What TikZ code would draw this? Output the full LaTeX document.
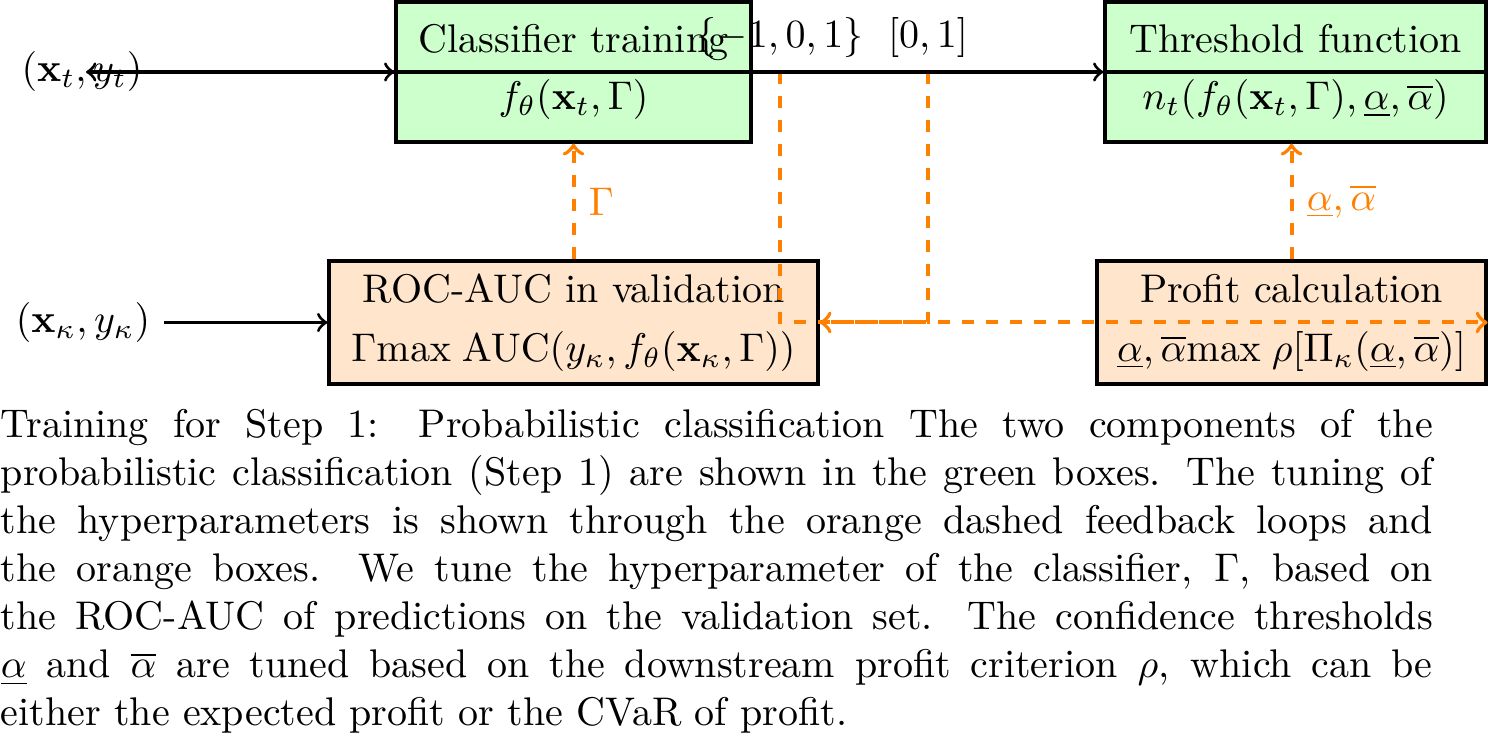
\documentclass[tikz,border=0pt]{standalone}
\usepackage{amsmath}
\begin{document}
\begin{tikzpicture}[x=0.25pt,y=-0.25pt,
  box/.style={draw=black,thick,inner sep=0pt,align=center},
  gbox/.style={box,fill=green!20,minimum height=35pt},
  obox/.style={box,fill=orange!20,minimum height=30.75pt},
  arr/.style={thick,->},
  fb/.style={line width=1pt,dashed,orange,->},
  fblab/.style={text=orange,right}]
\useasboundingbox (0,0) rectangle (1489,745);
% boxes
\node[gbox,minimum width=88.75pt] (cls) at (573.5,72)
  {Classifier training\\[2.25pt]$f_\theta(\mathbf{x}_t,\Gamma)$};
\node[gbox,minimum width=95.25pt] (thr) at (1295.5,72)
  {Threshold function\\[2.25pt]$n_t(f_\theta(\mathbf{x}_t,\Gamma),\underline{\alpha},\overline{\alpha})$};
\node[obox,minimum width=122.25pt] (roc) at (573.5,322.5)
  {ROC-AUC in validation\\[2.75pt]$\Gamma\mathrm{max}\;\mathrm{AUC}(y_\kappa,f_\theta(\mathbf{x}_\kappa,\Gamma))$};
\node[obox,minimum width=97.25pt] (prof) at (1291.5,322.5)
  {Profit calculation\\[2.75pt]$\underline{\alpha},\overline{\alpha}\mathrm{max}\;\rho[\Pi_\kappa(\underline{\alpha},\overline{\alpha})]$};
\draw[thick] (cls.west) -- (cls.east);
\draw[thick] (thr.west) -- (thr.east);
% inputs
\node (xt) at (82,72) {$(\mathbf{x}_t,y_t)$};
\coordinate (tl) at (86,72);
\node (xk) at (83,322.5) {$(\mathbf{x}_\kappa,y_\kappa)$};
\draw[arr] (xt.east) -- (cls.west);
\draw[arr] (cls.west) -- (tl);
\draw[arr] (xk.east) -- (roc.west);
% feedback loops
\coordinate (f1) at (780,72);
\coordinate (f2) at (928,72);
\node[above] (l1) at (f1) {$\{-1,0,1\}$};
\node[above] (l2) at (f2) {$[0,1]$};
\draw[fb] (f2) |- (roc.east);
\draw[fb] (f1) |- (prof.east);
\draw[fb] (roc.north) -- node[fblab] (lg) {$\Gamma$} (cls.south);
\draw[fb] (prof.north) -- node[fblab] (la) {$\underline{\alpha},\overline{\alpha}$} (prof.north |- thr.south);
\draw[arr] (cls.east) -- (thr.west);
% caption
\node[anchor=north west,inner sep=0pt,text width=358pt,align=justify] (cap) at (0,409)
{Training for Step 1: Probabilistic classification The two components of the\linebreak
probabilistic classification (Step 1) are shown in the green boxes. The tuning of\linebreak
the hyperparameters is shown through the orange dashed feedback loops and\linebreak
the orange boxes. We tune the hyperparameter of the classifier, $\Gamma$, based on\linebreak
the ROC-AUC of predictions on the validation set. The confidence thresholds\linebreak
$\underline{\alpha}$ and $\overline{\alpha}$ are tuned based on the downstream profit criterion $\rho$, which can be\linebreak
either the expected profit or the CVaR of profit.};
\end{tikzpicture}
\end{document}
